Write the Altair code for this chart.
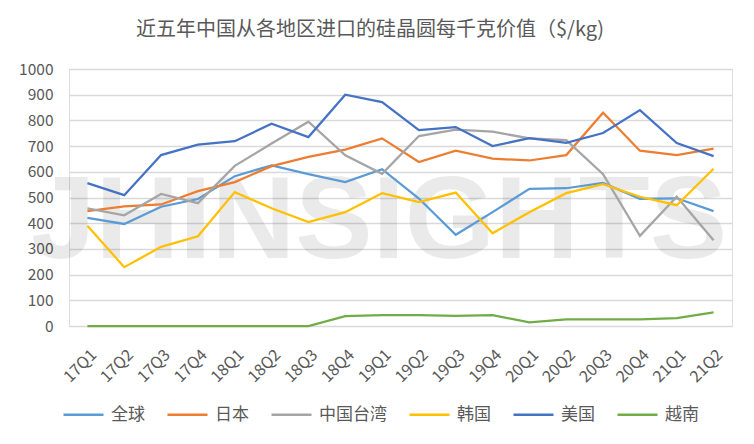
import altair as alt
import pandas as pd

quarters = ["17Q1", "17Q2", "17Q3", "17Q4", "18Q1", "18Q2", "18Q3", "18Q4", "19Q1",
            "19Q2", "19Q3", "19Q4", "20Q1", "20Q2", "20Q3", "20Q4", "21Q1", "21Q2"]
series_names = ["全球", "日本", "中国台湾", "韩国", "美国", "越南"]
series_colors = ["#5B9BD5", "#ED7D31", "#A5A5A5", "#FFC000", "#4472C4", "#70AD47"]

global_vals = [421, 397, 464, 494, 583, 625, 591, 560, 610, 496, 355, 443, 534, 536, 557, 495, 497, 447]
japan_vals = [447, 465, 473, 525, 560, 622, 658, 686, 730, 638, 682, 651, 644, 665, 830, 682, 665, 690]
taiwan_vals = [458, 431, 514, 478, 623, 710, 795, 664, 592, 739, 764, 756, 730, 723, 591, 351, 503, 334]
korea_vals = [390, 229, 308, 349, 521, 458, 404, 443, 517, 482, 519, 361, 443, 517, 552, 503, 470, 612]
usa_vals = [556, 509, 665, 706, 719, 787, 735, 900, 871, 762, 774, 700, 731, 713, 751, 840, 712, 661]
vietnam_vals = [0, 0, 0, 0, 0, 0, 0, 38, 42, 42, 39, 42, 14, 26, 26, 26, 31, 53]

y_ticks = [0, 100, 200, 300, 400, 500, 600, 700, 800, 900, 1000]
title_text = "近五年中国从各地区进口的硅晶圆每千克价值（$/kg)"
watermark_text = "JHINSIGHTS"

all_vals = [global_vals, japan_vals, taiwan_vals, korea_vals, usa_vals, vietnam_vals]
rows = []
for name, vals in zip(series_names, all_vals):
    for q, v in zip(quarters, vals):
        rows.append({"quarter": q, "series": name, "value": v})
df = pd.DataFrame(rows)

W, H = 663, 257
FONT = "Noto Sans CJK SC"
GRAY = "#595959"

watermark = alt.Chart(pd.DataFrame({"t": [watermark_text]})).mark_text(
    font="Liberation Sans", fontWeight="bold", fontSize=116,
    color="#000000", opacity=0.08, align="center", baseline="alphabetic"
).encode(text="t:N", x=alt.value(310), y=alt.value(189))

lines = alt.Chart(df).mark_line(strokeWidth=2.25).encode(
    x=alt.X("quarter:N", sort=quarters,
            scale=alt.Scale(type="point", padding=0.5),
            axis=alt.Axis(title=None, domain=False, ticks=False, tickSize=0,
                          labelAngle=-45, labelAlign="right", labelBaseline="middle",
                          labelPadding=26, labelOffset=6, labelFont=FONT,
                          labelFontSize=16, labelColor=GRAY, grid=False)),
    y=alt.Y("value:Q", scale=alt.Scale(domain=[0, 1000], nice=False),
            axis=alt.Axis(title=None, values=y_ticks, format="d", domain=False,
                          ticks=False, tickSize=0, labelPadding=16, labelFont=FONT,
                          labelFontSize=15.5, labelColor=GRAY, grid=True,
                          gridColor="#D9D9D9", gridWidth=1.4)),
    color=alt.Color("series:N", sort=series_names,
                    scale=alt.Scale(domain=series_names, range=series_colors),
                    legend=alt.Legend(title=None, orient="none", direction="horizontal",
                                      legendX=-7, legendY=324, padding=0,
                                      symbolType="stroke", symbolSize=1600,
                                      symbolStrokeWidth=2.5, labelOffset=6,
                                      columnPadding=17, labelFont=FONT,
                                      labelFontSize=17, labelColor=GRAY)),
    detail="series:N",
)

title = alt.Chart(pd.DataFrame({"t": [title_text]})).mark_text(
    font=FONT, fontSize=20, color=GRAY, align="center", baseline="middle"
).encode(text="t:N", x=alt.value(301), y=alt.value(-39))

chart = alt.layer(watermark, lines, title).properties(
    width=W, height=H,
    autosize=alt.AutoSizeParams(type="none"),
    padding={"left": 61, "top": 61, "right": 14, "bottom": 110},
).configure_view(stroke=None).configure(background="#FFFFFF")

chart.save("out.html", embed_options={"renderer": "svg", "actions": False})
